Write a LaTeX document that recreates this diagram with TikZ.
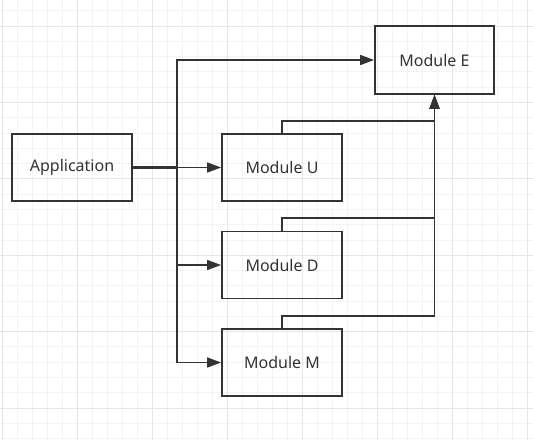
\documentclass[tikz,border=0pt]{standalone}
\usepackage{fontspec}
\setmainfont{Noto Sans}
\usetikzlibrary{arrows.meta}
\definecolor{ink}{HTML}{333333}
\definecolor{minorgrid}{HTML}{F3F3F3}
\definecolor{majorgrid}{HTML}{E6E6E6}
\begin{document}
\begin{tikzpicture}[x=1pt,y=-1pt,
  box/.style={draw=ink,line width=1.8pt,minimum width=120pt,minimum height=67pt,inner sep=0pt,font=\fontsize{16}{18}\selectfont,text=ink},
  link/.style={draw=ink,line width=1.5pt,-{Triangle[length=14pt,width=10pt]}}]
\useasboundingbox (0,0) rectangle (533,440);
\fill[white] (0,0) rectangle (533,440);
% minor grid
\foreach \i in {0,...,36} {\draw[minorgrid,line width=0.8pt] (2+15*\i,0) -- (2+15*\i,440);}
\foreach \j in {0,...,29} {\draw[minorgrid,line width=0.8pt] (0,10.7+15.28*\j) -- (533,10.7+15.28*\j);}
% major grid
\foreach \i in {0,...,7} {\draw[majorgrid,line width=1pt] (2+75*\i,0) -- (2+75*\i,440);}
\foreach \j in {0,...,5} {\draw[majorgrid,line width=1pt] (0,26+76.4*\j) -- (533,26+76.4*\j);}
% nodes
\node[box] (app) at (72,167.5) {Application};
\node[box,minimum width=119pt,minimum height=68pt] (E) at (434.5,60) {Module E};
\node[box] (U) at (282,167.5) {Module U};
\node[box] (D) at (282,265) {Module D};
\node[box] (M) at (282,362.5) {Module M};
% application to modules
\draw[ink,line width=2.6pt] (app.east) -- (177,167.5);
\draw[link] (app.east) -- (U.west);
\draw[link] (app.east) -- (177,167.5) |- (E.west);
\draw[link] (app.east) -- (177,167.5) |- (D.west);
\draw[link] (app.east) -- (177,167.5) |- (M.west);
% modules to E
\draw[link] (U.north) |- (434.5,121) -- (E.south);
\draw[link] (D.north) |- (434.5,218) -- (E.south);
\draw[link] (M.north) |- (434.5,316) -- (E.south);
\end{tikzpicture}
\end{document}
